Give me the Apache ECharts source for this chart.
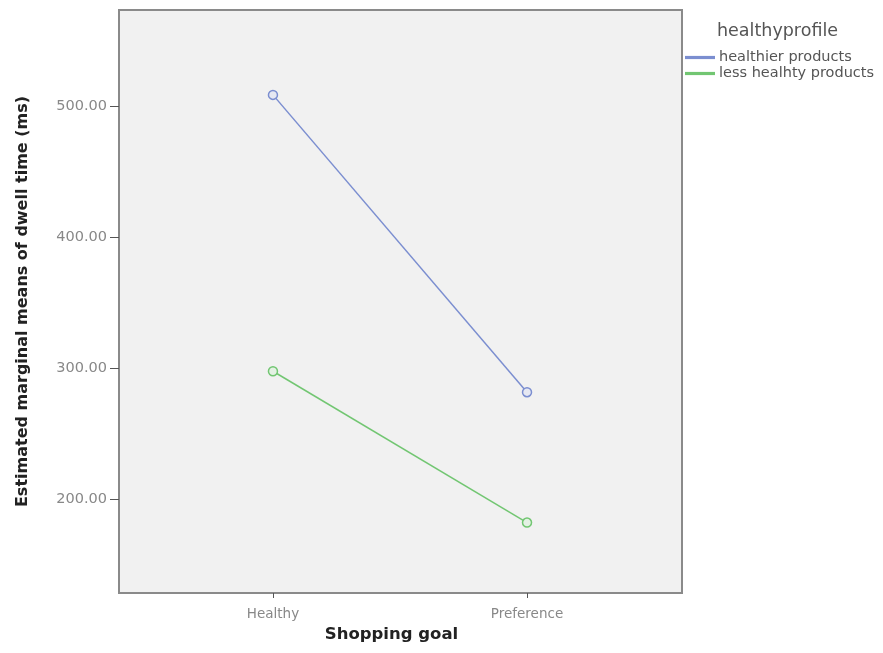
<!DOCTYPE html>
<html>
<head>
<meta charset="utf-8">
<script src="https://cdn.jsdelivr.net/npm/echarts@6/dist/echarts.min.js"></script>
<style>
html,body{margin:0;padding:0;background:#fff;}
#chart{width:883px;height:653px;}
</style>
</head>
<body>
<div id="chart"></div>
<script>
// Data
var categories = ['Healthy', 'Preference'];
var healthierValues = [508.5, 281.5];
var lessHealthyValues = [297.5, 182.0];
var yTickValues = [200, 300, 400, 500];
var seriesNames = ['healthier products', 'less healhty products'];

var blue = '#7b8ed0';
var green = '#72c672';

function toPoints(vals) {
  return vals.map(function (v, i) { return [i + 1, v]; });
}

var chart = echarts.init(document.getElementById('chart'), null, { renderer: 'canvas' });
var labelFont = 'DejaVu Sans';

chart.setOption({
  animation: false,
  backgroundColor: '#ffffff',
  grid: {
    left: 119, top: 10, right: 201, bottom: 60,
    show: true, backgroundColor: '#f1f1f1', borderColor: '#8a8a8a', borderWidth: 2
  },
  xAxis: {
    type: 'value',
    min: 0.394, max: 2.610,
    name: 'Shopping goal',
    nameLocation: 'middle',
    nameGap: 32,
    nameTextStyle: { fontFamily: labelFont, fontWeight: 'bold', fontSize: 16.5, color: '#222', padding: [0, 18, 0, 0] },
    axisLine: { show: false },
    splitLine: { show: false },
    axisTick: { show: true, customValues: [1, 2], length: 5, lineStyle: { color: '#555' } },
    axisLabel: {
      customValues: [1, 2],
      formatter: function (v) { return categories[Math.round(v) - 1] || ''; },
      fontFamily: labelFont, fontSize: 13.5, color: '#888', margin: 14
    }
  },
  yAxis: {
    type: 'value',
    min: 128.2, max: 573.3,
    name: 'Estimated marginal means of dwell time (ms)',
    nameLocation: 'middle',
    nameGap: 88,
    nameRotate: 90,
    nameTextStyle: { fontFamily: labelFont, fontWeight: 'bold', fontSize: 16, color: '#222' },
    axisLine: { show: false },
    splitLine: { show: false },
    axisTick: { show: true, customValues: yTickValues, length: 9, lineStyle: { color: '#555' } },
    axisLabel: {
      customValues: yTickValues,
      formatter: function (v) { return v.toFixed(2); },
      fontFamily: labelFont, fontSize: 14.5, color: '#888', margin: 12
    }
  },
  legend: {
    orient: 'vertical',
    left: 680, top: 45,
    itemWidth: 28, itemHeight: 1.2, itemGap: 1,
    icon: 'rect',
    textStyle: { fontFamily: labelFont, fontSize: 14.5, color: '#555' },
    data: seriesNames
  },
  graphic: [{
    type: 'text', left: 717, top: 22,
    style: { text: 'healthyprofile', font: '17.5px "DejaVu Sans"', fill: '#555' }
  }],
  series: [
    {
      name: seriesNames[0], type: 'line', data: toPoints(healthierValues),
      symbol: 'circle', symbolSize: 9,
      lineStyle: { color: blue, width: 1.5 },
      itemStyle: { color: '#e6e8f2', borderColor: blue, borderWidth: 1.5 }
    },
    {
      name: seriesNames[1], type: 'line', data: toPoints(lessHealthyValues),
      symbol: 'circle', symbolSize: 9,
      lineStyle: { color: green, width: 1.5 },
      itemStyle: { color: '#e4f1e4', borderColor: green, borderWidth: 1.5 }
    }
  ]
});
</script>
</body>
</html>
